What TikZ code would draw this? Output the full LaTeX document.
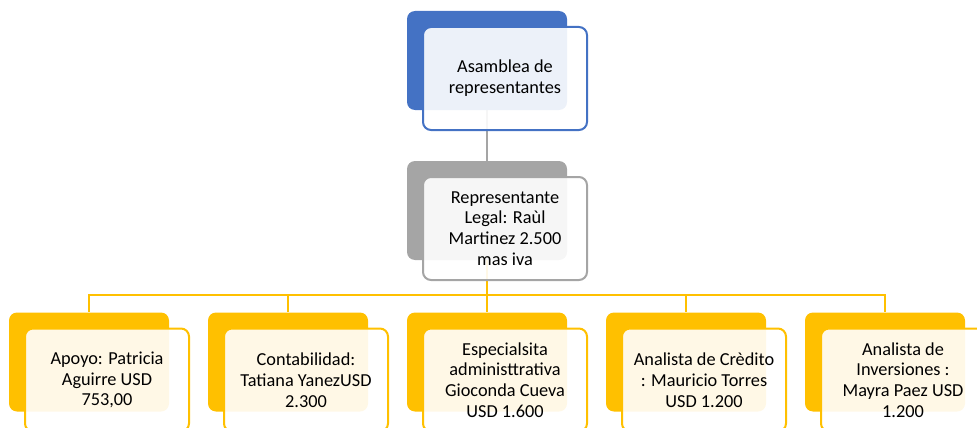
\documentclass[tikz,border=0pt]{standalone}
\usepackage{fontspec}
\setmainfont{Carlito}
\usetikzlibrary{backgrounds}
\definecolor{azul}{HTML}{4472C4}
\definecolor{gris}{HTML}{A5A5A5}
\definecolor{oro}{HTML}{FFC000}
\begin{document}
\begin{tikzpicture}[x=1pt,y=-1pt,
    fondo/.style={fill=#1,rounded corners=8pt,minimum width=160pt,
                  minimum height=99pt,inner sep=0pt},
    frente/.style={draw=#1,line width=2pt,fill=white,fill opacity=0.9,
                   text opacity=1,rounded corners=8pt,minimum width=164pt,
                   minimum height=103pt,inner sep=0pt,align=center,
                   font=\fontsize{18.3}{20.8}\selectfont},
    linea/.style={draw=#1,line width=2pt}]
    \useasboundingbox (0,0) rectangle (977,428);
    \clip (0,0) rectangle (977,428);

    \node[fondo=azul]  (asamblea)  at (487,60.5) {};
    \node[frente=azul] (asambleaT) at (505,78.5) {Asamblea de\\representantes};

    \node[fondo=gris]  (legal)  at (487,210.5) {};
    \node[frente=gris] (legalT) at (505,228.5)
          {Representante\\Legal: Raùl\\Martinez 2.500\\mas iva};

    \coordinate (bus) at (487,295);

    \node[fondo=oro]  (apoyo)  at (89,362) {};
    \node[frente=oro] (apoyoT) at (107,380)
          {Apoyo: Patricia\\Aguirre USD\\753,00};
    \node[fondo=oro]  (conta)  at (288,362) {};
    \node[frente=oro] (contaT) at (306,380)
          {Contabilidad:\\Tatiana YanezUSD\\2.300};
    \node[fondo=oro]  (especial)  at (487,362) {};
    \node[frente=oro] (especialT) at (505,380)
          {Especialsita\\administtrativa\\Gioconda Cueva\\USD 1.600};
    \node[fondo=oro]  (credito)  at (686,362) {};
    \node[frente=oro] (creditoT) at (704,380)
          {Analista de Crèdito\\: Mauricio Torres\\USD 1.200};
    \node[fondo=oro]  (inversion)  at (885,362) {};
    \node[frente=oro] (inversionT) at (903,380)
          {Analista de\\Inversiones :\\Mayra Paez USD\\1.200};

    \begin{scope}[on background layer]
    \draw[linea=gris] (asamblea.south) -- (legal.north);
    \draw[linea=oro] (legal.south) -- (legal.south |- bus);
    \draw[linea=oro] (legal.south |- bus) -| (apoyo.north);
    \draw[linea=oro] (legal.south |- bus) -| (conta.north);
    \draw[linea=oro] (legal.south |- bus) -- (especial.north);
    \draw[linea=oro] (legal.south |- bus) -| (credito.north);
    \draw[linea=oro] (legal.south |- bus) -| (inversion.north);
    \end{scope}
\end{tikzpicture}
\end{document}
